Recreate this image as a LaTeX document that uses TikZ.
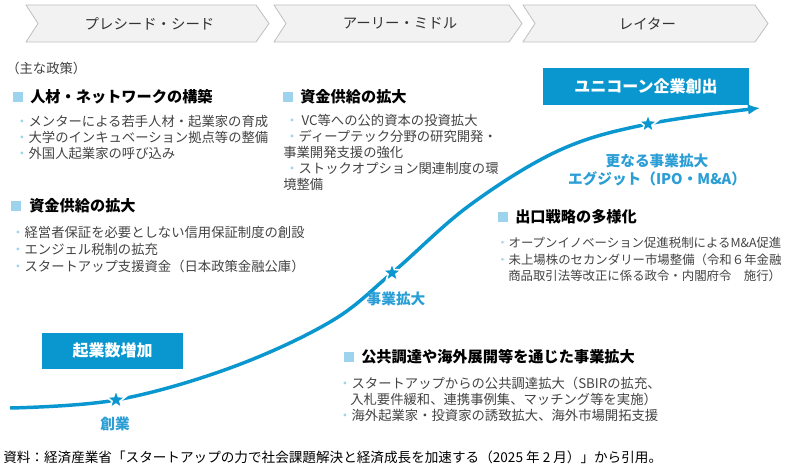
\documentclass[tikz,border=0pt]{standalone}
\usepackage{fontspec}
\setmainfont{Noto Sans CJK JP}
\usetikzlibrary{shapes.geometric,arrows.meta}
\definecolor{mainblue}{HTML}{0A97CF}
\definecolor{lblue}{HTML}{2B9ED6}
\definecolor{sq}{HTML}{9DD3EC}
\definecolor{txt}{HTML}{444444}
\tikzset{x=0.75pt,y=-0.75pt,
 chev/.style={draw=black!25,fill=black!5,line width=0.6pt},
 phase/.style={font=\fontsize{10.8}{12}\selectfont,text=black!80},
 head/.style={anchor=west,font=\bfseries\fontsize{11.4}{13}\selectfont,inner sep=0pt},
 item/.style={anchor=west,font=\fontsize{10}{12}\selectfont,text=txt,inner sep=0pt},
 itemr/.style={item,font=\fontsize{9.3}{11}\selectfont},
 sqm/.style={fill=sq,minimum size=8pt,inner sep=0pt},
 bigbox/.style={fill=mainblue,text=white,font=\bfseries\fontsize{12}{14}\selectfont,inner sep=0pt},
 stg/.style={text=lblue,font=\bfseries\fontsize{11}{13}\selectfont,inner sep=0pt},
 starm/.style={star,star points=5,star point ratio=2.4,fill=mainblue,draw=white,line width=1.2pt,minimum size=15pt,inner sep=0pt}}
\newcommand{\dt}{{\color{sq}・}}
\begin{document}
\begin{tikzpicture}
\useasboundingbox[fill=white] (0,0) rectangle (803,473);
% chevrons
\foreach \a/\b/\t [count=\i] in {26/269/プレシード・シード,274/522/アーリー・ミドル,523/768/レイター}{
 \draw[chev] (\a,5) -- (\b-13,5) -- (\b,23.5) -- (\b-13,42) -- (\a,42) -- (\a+12,23.5) -- cycle;
 \node[phase] (ph\i) at ({(\a+\b)/2+2},23.5) {\t};}
% curve
\draw[mainblue,line width=2.6pt,-{Latex[length=9pt,width=8pt]}] plot[smooth,tension=0.6] coordinates {(10,408)(116,400)(230,368)(330,322)(392,273)(470,205)(560,150)(648,124)(760,108)};
\node[starm] (s1) at (116,400) {};
\node[starm] (s2) at (392,273) {};
\node[starm] (s3) at (648,124) {};
\node[stg] (l1) at (115,424) {創業};
\node[stg] (l2) at (396,299) {事業拡大};
\node[stg,align=center] (l3) at (657,170) {更なる事業拡大\\エグジット（IPO・M\&A）};
\node[bigbox,minimum width=206*0.75pt,minimum height=37*0.75pt] (uni) at (646,86.5) {ユニコーン企業創出};
\node[bigbox,minimum width=141*0.75pt,minimum height=36*0.75pt] (kig) at (112.5,351) {起業数増加};
% left column
\node[item,text=black!75] (pol) at (6,68) {（主な政策）};
\node[sqm] (q1) at (18,97) {}; \node[head] (h1) at (30,97) {人材・ネットワークの構築};
\node[item] (i11) at (15,121) {\dt メンターによる若手人材・起業家の育成};
\node[item] (i12) at (15,137) {\dt 大学のインキュベーション拠点等の整備};
\node[item] (i13) at (15,153) {\dt 外国人起業家の呼び込み};
\node[sqm] (q2) at (16,206) {}; \node[head] (h2) at (29,206) {資金供給の拡大};
\node[item] (i21) at (11,232) {\dt 経営者保証を必要としない信用保証制度の創設};
\node[item] (i22) at (11,249) {\dt エンジェル税制の拡充};
\node[item] (i23) at (11,266) {\dt スタートアップ支援資金（日本政策金融公庫）};
% middle
\node[sqm] (q3) at (288,97) {}; \node[head] (h3) at (300,97) {資金供給の拡大};
\node[item] (i31) at (285,120) {\dt\ VC等への公的資本の投資拡大};
\node[item] (i32) at (285,136) {\dt ディープテック分野の研究開発・};
\node[item] (i33) at (283,152) {事業開発支援の強化};
\node[item] (i34) at (285,168) {\dt ストックオプション関連制度の環};
\node[item] (i35) at (283,184) {境整備};
% right
\node[sqm] (q4) at (503,217) {}; \node[head] (h4) at (515,217) {出口戦略の多様化};
\node[itemr] (i41) at (496,243) {\dt オープンイノベーション促進税制によるM\&A促進};
\node[itemr] (i42) at (496,260) {\dt 未上場株のセカンダリー市場整備（令和６年金融};
\node[itemr] (i43) at (508,276) {商品取引法等改正に係る政令・内閣府令\quad 施行）};
% bottom
\node[sqm] (q5) at (349,357) {}; \node[head] (h5) at (361,357) {公共調達や海外展開等を通じた事業拡大};
\node[item] (i51) at (338,383) {\dt スタートアップからの公共調達拡大（SBIRの拡充、};
\node[item] (i52) at (350,399) {入札要件緩和、連携事例集、マッチング等を実施）};
\node[item] (i53) at (338,415) {\dt 海外起業家・投資家の誘致拡大、海外市場開拓支援};
\node[item,text=black,font=\fontsize{10.2}{12}\selectfont] (src) at (3,457) {資料：経済産業省「スタートアップの力で社会課題解決と経済成長を加速する（2025 年 2 月）」から引用。};
\end{tikzpicture}
\end{document}
